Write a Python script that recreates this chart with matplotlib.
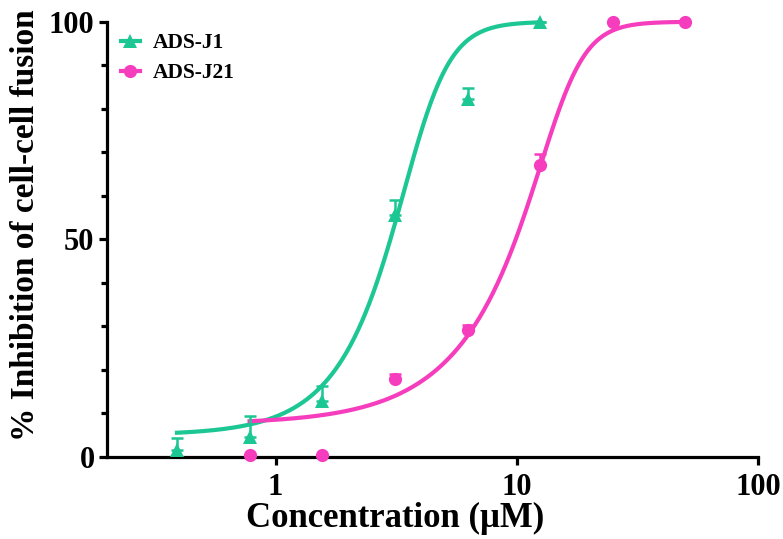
import numpy as np
import matplotlib
matplotlib.use("Agg")
import matplotlib.pyplot as plt
from matplotlib.lines import Line2D
from matplotlib.ticker import FixedLocator, NullLocator, FixedFormatter

plt.rcParams['font.family'] = ['Liberation Serif', 'DejaVu Serif']
plt.rcParams['font.weight'] = 'bold'

# ---- data ----
conc_j1 = [0.39, 0.78, 1.56, 3.125, 6.25, 12.5]
inh_j1 = [1.6, 4.6, 12.7, 55.6, 82.2, 100.0]
err_j1 = [2.6, 4.7, 3.5, 3.4, 2.5, 0.0]

conc_j21 = [0.78, 1.56, 3.125, 6.25, 12.5, 25.0, 50.0]
inh_j21 = [0.5, 0.5, 17.8, 29.2, 67.0, 100.0, 100.0]
err_j21 = [0.0, 0.0, 1.2, 1.1, 2.6, 0.0, 0.0]

# fitted curve parameters (bottom, top, C, hill, asymmetry)
fit_j1 = dict(bottom=5.0, top=100.0, c=4.0, h=5.0, s=0.45)
fit_j21 = dict(bottom=7.5, top=100.0, c=15.64, h=5.5, s=0.30)

labels = ["ADS-J1", "ADS-J21"]
green = "#1CC794"
magenta = "#F53DBE"

def curve(x, bottom, top, c, h, s):
    return bottom + (top - bottom) / (1.0 + (c / x) ** h) ** s

fig = plt.figure(figsize=(7.83, 5.39), dpi=100)
ax = fig.add_axes([0.1367, 0.1527, 0.8314, 0.807])

# curves
xs1 = np.logspace(np.log10(conc_j1[0]), np.log10(conc_j1[-1]), 300)
ax.plot(xs1, curve(xs1, **fit_j1), color=green, lw=3.0, zorder=2, clip_on=False)
xs2 = np.logspace(np.log10(conc_j21[0]), np.log10(conc_j21[-1]), 300)
ax.plot(xs2, curve(xs2, **fit_j21), color=magenta, lw=3.0, zorder=2, clip_on=False)

# error bars (upward only)
ax.errorbar(conc_j1, inh_j1, yerr=[np.zeros(len(err_j1)), err_j1], fmt='none',
            ecolor=green, elinewidth=1.8, capsize=4.5, capthick=1.8, zorder=3, clip_on=False)
ax.errorbar(conc_j21, inh_j21, yerr=[np.zeros(len(err_j21)), err_j21], fmt='none',
            ecolor=magenta, elinewidth=1.8, capsize=4.5, capthick=1.8, zorder=3, clip_on=False)

# markers
ax.plot(conc_j1, inh_j1, linestyle='none', marker='^', ms=10, color=green,
        markeredgewidth=0, zorder=4, clip_on=False)
ax.plot(conc_j21, inh_j21, linestyle='none', marker='o', ms=9.5, color=magenta,
        markeredgewidth=0, zorder=4, clip_on=False)

ax.set_xscale('log')
ax.set_xlim(0.2, 100)
ax.set_ylim(0, 100)

ax.xaxis.set_major_locator(FixedLocator([1, 10, 100]))
ax.xaxis.set_major_formatter(FixedFormatter(["1", "10", "100"]))
ax.xaxis.set_minor_locator(NullLocator())
ax.yaxis.set_major_locator(FixedLocator([0, 50, 100]))
ax.yaxis.set_minor_locator(FixedLocator([10, 20, 30, 40, 60, 70, 80, 90]))

for side in ['top', 'right']:
    ax.spines[side].set_visible(False)
for side in ['left', 'bottom']:
    ax.spines[side].set_linewidth(2.3)

ax.tick_params(axis='both', which='major', direction='out', length=6, width=2.3,
               labelsize=22, pad=3)
ax.tick_params(axis='x', which='major', pad=6)
ax.tick_params(axis='y', which='minor', direction='out', length=4, width=2.3)
for lab in ax.get_xticklabels() + ax.get_yticklabels():
    lab.set_fontweight('bold')

ax.set_xlabel("Concentration (\u03bcM)", fontsize=25, fontweight='bold')
ax.xaxis.set_label_coords(0.442, -0.104)
ax.set_ylabel("% Inhibition of cell-cell fusion", fontsize=24, fontweight='bold')
ax.yaxis.set_label_coords(-0.101, 0.533)

handles = [
    Line2D([], [], color=green, lw=3, marker='^', ms=10, markeredgewidth=0),
    Line2D([], [], color=magenta, lw=3, marker='o', ms=9.5, markeredgewidth=0),
]
leg = ax.legend(handles, labels, loc='upper left', bbox_to_anchor=(-0.009, 1.018),
                frameon=False, prop={'family': 'Liberation Serif', 'weight': 'bold', 'size': 15.5},
                handlelength=0.9, handletextpad=0.6, labelspacing=0.45, borderaxespad=0.5)

fig.savefig("out.png", dpi=100)
